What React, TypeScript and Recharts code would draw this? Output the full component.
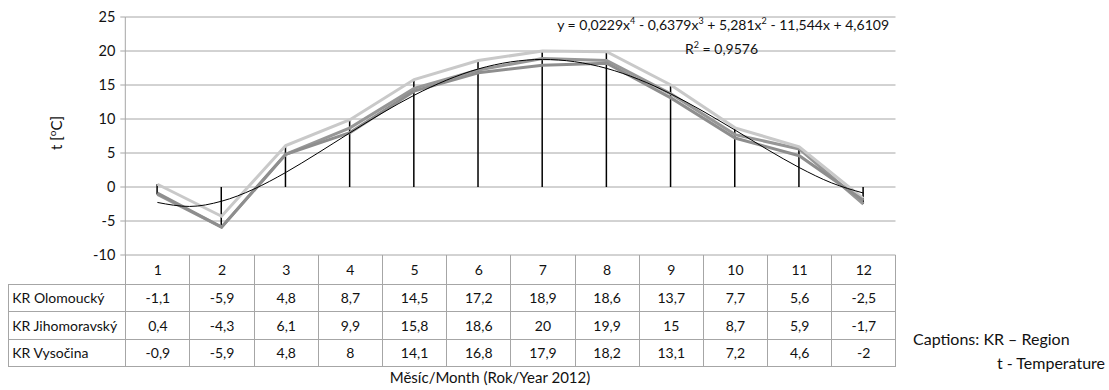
import {
  ComposedChart,
  Line,
  Bar,
  XAxis,
  YAxis,
  CartesianGrid,
} from "recharts";

// měsíce a průměrné teploty 2012
const months = [1, 2, 3, 4, 5, 6, 7, 8, 9, 10, 11, 12];
const olomoucky = [-1.1, -5.9, 4.8, 8.7, 14.5, 17.2, 18.9, 18.6, 13.7, 7.7, 5.6, -2.5];
const jihomoravsky = [0.4, -4.3, 6.1, 9.9, 15.8, 18.6, 20, 19.9, 15, 8.7, 5.9, -1.7];
const vysocina = [-0.9, -5.9, 4.8, 8, 14.1, 16.8, 17.9, 18.2, 13.1, 7.2, 4.6, -2];
const seriesNames = ["KR Olomoucký", "KR Jihomoravský", "KR Vysočina"];
const yTicks = [-10, -5, 0, 5, 10, 15, 20, 25];

// polynomický trend (odečteno z grafu po půl měsících)
const trendX = [1, 1.5, 2, 2.5, 3, 3.5, 4, 4.5, 5, 5.5, 6, 6.5, 7, 7.5, 8, 8.5, 9, 9.5, 10, 10.5, 11, 11.5, 12];
const trendY = [-2.27, -2.86, -2.09, -0.32, 2.14, 4.99, 7.97, 10.86, 13.49, 15.69, 17.36, 18.39, 18.76, 18.43, 17.44, 15.83, 13.69, 11.15, 8.37, 5.53, 2.86, 0.62, -0.89];

const fmt = (v: number) => String(v).replace(".", ",");

const rows = months.map((m, i) => {
  const vals = [olomoucky[i], jihomoravsky[i], vysocina[i]];
  return {
    month: m,
    olo: olomoucky[i],
    jih: jihomoravsky[i],
    vys: vysocina[i],
    range: [Math.min(0, ...vals), Math.max(0, ...vals)],
  };
});

const trendData = trendX.map((x, i) => ({ month: x, trend: trendY[i] }));

const tableRows = [olomoucky, jihomoravsky, vysocina];

const FONT = "Lato, 'Open Sans', sans-serif";
const BORDER = "1px solid #a6a6a6";

export default function App() {
  const colW = 64.18;
  return (
    <div style={{ position: "relative", width: 1109, height: 390, fontFamily: FONT, color: "#111" }}>
      <style>{`body{margin:0}`}</style>
      <ComposedChart
        width={1109}
        height={390}
        data={rows}
        margin={{ top: 17, right: 213.5, bottom: 135, left: 0 }}
      >
        <CartesianGrid vertical={false} stroke="#a6a6a6" />
        <XAxis dataKey="month" type="number" domain={[0.5, 12.5]} hide />
        <YAxis
          width={125.3}
          domain={[-10, 25]}
          ticks={yTicks}
          interval={0}
          tick={{ fill: "#111", fontSize: 14.5, fontFamily: FONT }}
          tickLine={{ stroke: "#a6a6a6" }}
          axisLine={{ stroke: "#a6a6a6" }}
          tickSize={5}
          tickMargin={5}
        />
        <Line dataKey="olo" stroke="#979797" strokeWidth={3} dot={false} isAnimationActive={false} />
        <Line dataKey="jih" stroke="#c9c9c9" strokeWidth={3} dot={false} isAnimationActive={false} />
        <Line dataKey="vys" stroke="#8e8e8e" strokeWidth={3} dot={false} isAnimationActive={false} />
        <Line
          data={trendData}
          dataKey="trend"
          type="monotone"
          stroke="#000"
          strokeWidth={1}
          dot={false}
          isAnimationActive={false}
        />
        <Bar dataKey="range" barSize={1.5} fill="#000" isAnimationActive={false} />
      </ComposedChart>

      {/* popisek osy y */}
      <div
        style={{
          position: "absolute",
          left: 55,
          top: 133,
          transform: "translate(-50%,-50%) rotate(-90deg)",
          fontSize: 15,
          whiteSpace: "nowrap",
        }}
      >
        t [<sup style={{ fontSize: 10 }}>o</sup>C]
      </div>

      {/* rovnice trendu */}
      <div style={{ position: "absolute", right: 1109 - 889, top: 12, fontSize: 14, whiteSpace: "nowrap", lineHeight: "18px" }}>
        y = 0,0229x<sup style={{ fontSize: 9 }}>4</sup> - 0,6379x<sup style={{ fontSize: 9 }}>3</sup> + 5,281x
        <sup style={{ fontSize: 9 }}>2</sup> - 11,544x + 4,6109
      </div>
      <div style={{ position: "absolute", left: 685, top: 36, fontSize: 14, whiteSpace: "nowrap", lineHeight: "18px" }}>
        R<sup style={{ fontSize: 9 }}>2</sup> = 0,9576
      </div>

      {/* tabulka dat */}
      <table
        style={{
          position: "absolute",
          left: 8.3,
          top: 255,
          borderCollapse: "collapse",
          tableLayout: "fixed",
          fontSize: 14,
          fontFamily: FONT,
        }}
      >
        <colgroup>
          <col style={{ width: 117 }} />
          {months.map((m) => (
            <col key={m} style={{ width: colW }} />
          ))}
        </colgroup>
        <tbody>
          <tr style={{ height: 29 }}>
            <td style={{ border: "none", borderRight: BORDER, padding: 0 }} />
            {months.map((m) => (
              <td key={m} style={{ borderLeft: BORDER, borderRight: BORDER, textAlign: "center", padding: 0 }}>
                {m}
              </td>
            ))}
          </tr>
          {tableRows.map((vals, r) => (
            <tr key={r} style={{ height: 27.5 }}>
              <td style={{ border: BORDER, padding: "0 0 0 3px", whiteSpace: "nowrap" }}>{seriesNames[r]}</td>
              {vals.map((v, i) => (
                <td key={i} style={{ border: BORDER, textAlign: "center", padding: 0 }}>
                  {fmt(v)}
                </td>
              ))}
            </tr>
          ))}
        </tbody>
      </table>

      <div
        style={{
          position: "absolute",
          left: 490,
          top: 368,
          transform: "translateX(-50%)",
          fontSize: 15,
          whiteSpace: "nowrap",
        }}
      >
        Měsíc/Month (Rok/Year 2012)
      </div>
      <div style={{ position: "absolute", left: 913, top: 329, fontSize: 16, whiteSpace: "nowrap" }}>
        Captions: KR – Region
      </div>
      <div style={{ position: "absolute", right: 4, top: 353, fontSize: 16, whiteSpace: "nowrap" }}>
        t - Temperature
      </div>
    </div>
  );
}
